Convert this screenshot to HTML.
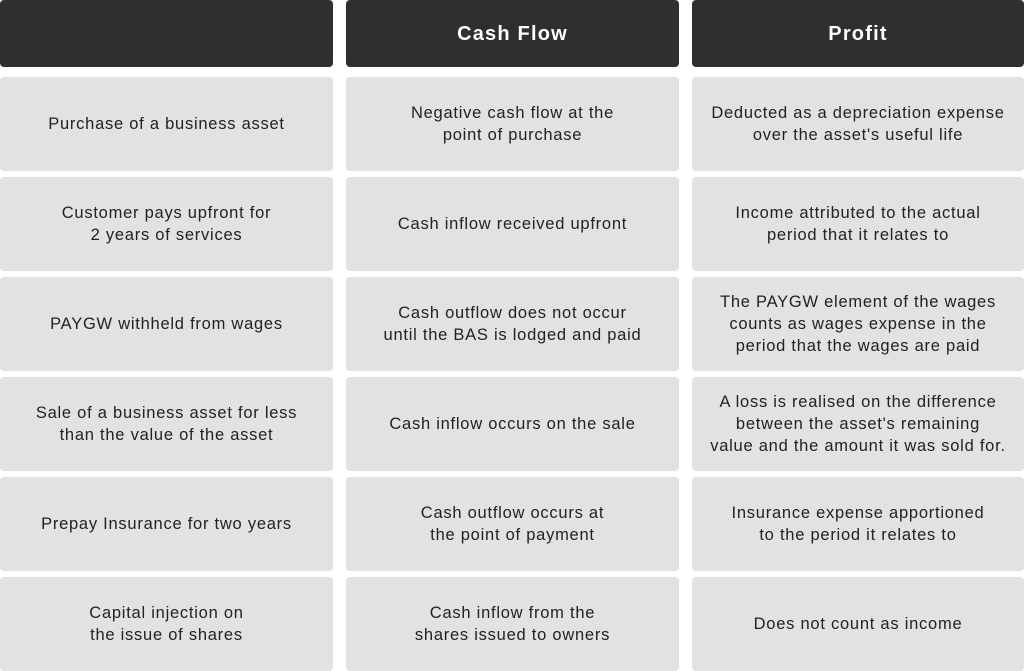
<!DOCTYPE html>
<html><head><style>
body{margin:0;width:1024px;height:671px;background:#fff;position:relative;overflow:hidden;font-family:"Liberation Sans",sans-serif}
.c{position:absolute;display:flex;align-items:center;justify-content:center;text-align:center;border-radius:4px;box-sizing:border-box;background:#e2e2e2;color:#222;font-size:16.5px;letter-spacing:0.75px;line-height:22px;padding:0 4px;white-space:nowrap}
.h{background:#2f2f2f;color:#fff;font-weight:bold;font-size:20px;letter-spacing:1.2px;top:0;height:67px}
.a{left:0;width:333px}.b{left:346px;width:333px}.d{left:692px;width:332px}
</style></head><body>
<div class="c h a"></div><div class="c h b">Cash Flow</div><div class="c h d">Profit</div>

<div class="c a" style="top:77px;height:94px">Purchase of a business asset</div>
<div class="c b" style="top:77px;height:94px">Negative cash flow at the<br>point of purchase</div>
<div class="c d" style="top:77px;height:94px">Deducted as a depreciation expense<br>over the asset's useful life</div>

<div class="c a" style="top:177px;height:94px">Customer pays upfront for<br>2 years of services</div>
<div class="c b" style="top:177px;height:94px">Cash inflow received upfront</div>
<div class="c d" style="top:177px;height:94px">Income attributed to the actual<br>period that it relates to</div>

<div class="c a" style="top:277px;height:94px">PAYGW withheld from wages</div>
<div class="c b" style="top:277px;height:94px">Cash outflow does not occur<br>until the BAS is lodged and paid</div>
<div class="c d" style="top:277px;height:94px">The PAYGW element of the wages<br>counts as wages expense in the<br>period that the wages are paid</div>

<div class="c a" style="top:377px;height:94px">Sale of a business asset for less<br>than the value of the asset</div>
<div class="c b" style="top:377px;height:94px">Cash inflow occurs on the sale</div>
<div class="c d" style="top:377px;height:94px">A loss is realised on the difference<br>between the asset's remaining<br>value and the amount it was sold for.</div>

<div class="c a" style="top:477px;height:94px">Prepay Insurance for two years</div>
<div class="c b" style="top:477px;height:94px">Cash outflow occurs at<br>the point of payment</div>
<div class="c d" style="top:477px;height:94px">Insurance expense apportioned<br>to the period it relates to</div>

<div class="c a" style="top:577px;height:94px">Capital injection on<br>the issue of shares</div>
<div class="c b" style="top:577px;height:94px">Cash inflow from the<br>shares issued to owners</div>
<div class="c d" style="top:577px;height:94px">Does not count as income</div>
</body></html>
